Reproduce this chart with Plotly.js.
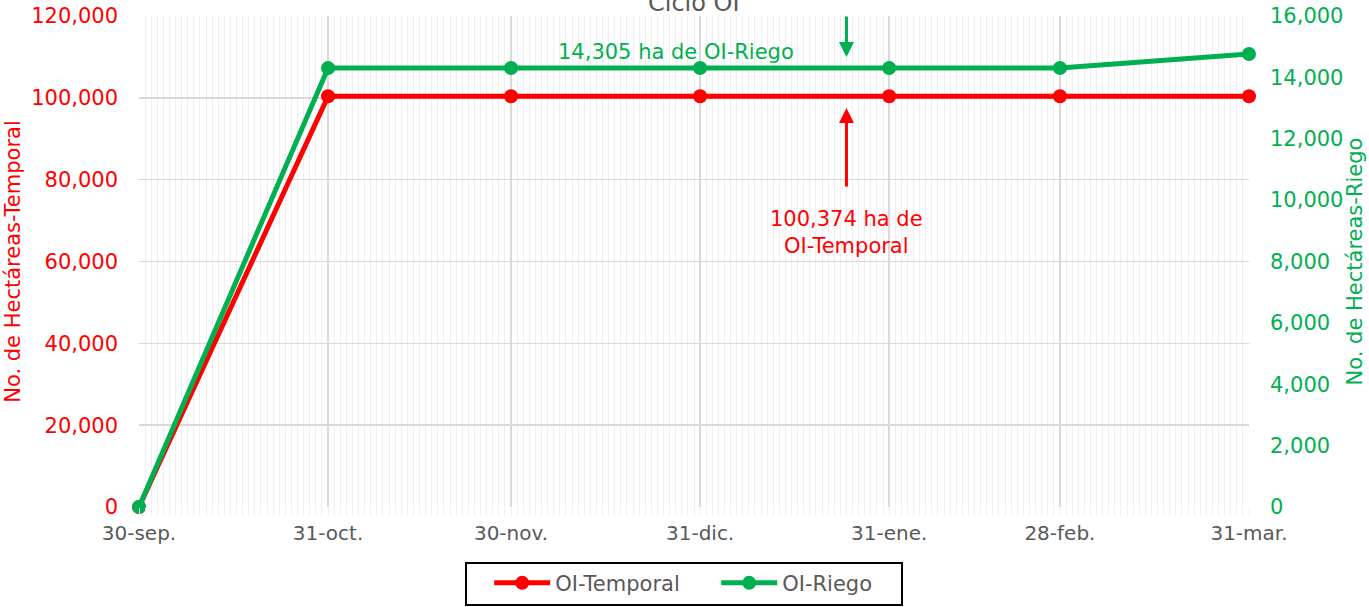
<!DOCTYPE html>
<html><head><meta charset="utf-8">
<script src="https://cdn.plot.ly/plotly-3.0.1.min.js"></script>
<style>body{margin:0;background:#fff}#c{width:1369px;height:607px}</style>
</head><body><div id="c"></div>
<script>
const fechas = ['2024-09-30','2024-10-31','2024-11-30','2024-12-31','2025-01-31','2025-02-28','2025-03-31'];
const tickLabels = ['30-sep.','31-oct.','30-nov.','31-dic.','31-ene.','28-feb.','31-mar.'];
const temporal = [0,100374,100374,100374,100374,100374,100374];
const riego = [0,14305,14305,14305,14305,14305,14760];
const FONT = 'DejaVu Sans, sans-serif';
const RED = '#FF0000', GREEN = '#00B050', GRAY = '#595959';

const traces = [
  {x: fechas, y: temporal, name: 'OI-Temporal', type: 'scatter', mode: 'lines+markers',
   line: {color: RED, width: 5}, marker: {color: RED, size: 14}, cliponaxis: false},
  {x: fechas, y: riego, name: 'OI-Riego', type: 'scatter', mode: 'lines+markers', yaxis: 'y2',
   line: {color: GREEN, width: 5}, marker: {color: GREEN, size: 14}, cliponaxis: false}
];

const layout = {
  width: 1369, height: 607,
  margin: {l: 139, r: 120, t: 16, b: 100, autoexpand: false},
  paper_bgcolor: '#fff', plot_bgcolor: '#fff',
  font: {family: FONT, color: GRAY},
  showlegend: true,
  legend: {orientation: 'h', x: 0.52, xanchor: 'center', yref: 'container', y: 0.073, yanchor: 'top',
           borderwidth: 0, bgcolor: 'rgba(0,0,0,0)', font: {size: 21, color: GRAY},
           entrywidth: 156, entrywidthmode: 'pixels', itemwidth: 56},
  shapes: [
    {type: 'rect', xref: 'paper', yref: 'paper', x0: 0.2946, x1: 0.6874, y0: -0.114, y1: -0.1996,
     line: {color: '#000', width: 2}, fillcolor: 'rgba(0,0,0,0)'}
  ],
  xaxis: {type: 'date', range: ['2024-09-30', '2025-03-31'], tickmode: 'array', automargin: false,
          tickvals: fechas, ticktext: tickLabels, showgrid: true, gridcolor: '#d9d9d9', gridwidth: 1.5,
          tickfont: {size: 20, color: GRAY}, ticks: '', zeroline: false, showline: false,
          ticklabelstandoff: 12,
          minor: {dtick: 86400000, showgrid: true, gridcolor: '#efefef', gridwidth: 1,
                  ticks: 'outside', ticklen: 8, tickcolor: '#f0f0f0'}},
  yaxis: {range: [0, 120000], dtick: 20000, tickformat: ',d', showgrid: true, gridcolor: '#d9d9d9', gridwidth: 1.5,
          automargin: false,
          tickfont: {size: 21, color: RED}, zeroline: false, showline: false, ticklabelstandoff: 20,
          title: {text: 'No. de Hectáreas-Temporal', font: {size: 21, color: RED}, standoff: 4}},
  yaxis2: {range: [0, 16000], dtick: 2000, tickformat: ',d', overlaying: 'y', side: 'right', showgrid: false,
           automargin: false,
           tickfont: {size: 21, color: GREEN}, zeroline: false, showline: false, ticklabelstandoff: 20,
           title: {text: 'No. de Hectáreas-Riego', font: {size: 21, color: GREEN}, standoff: 0}},
  annotations: [
    {xref: 'paper', yref: 'paper', x: 0.5, y: 1, yanchor: 'bottom', yshift: -3, showarrow: false,
     text: 'Ciclo OI', font: {size: 24, color: GRAY}},
    {xref: 'x', yref: 'paper', x: '2024-12-27', y: 0.955, showarrow: false,
     text: '14,305 ha de OI-Riego', font: {size: 21, color: GREEN}},
    {xref: 'x', yref: 'paper', x: '2025-01-24', y: 0.9165, ax: 0, ay: -42, showarrow: true,
     arrowhead: 2, arrowsize: 1, arrowwidth: 3, arrowcolor: GREEN, text: ''},
    {xref: 'x', yref: 'paper', x: '2025-01-24', y: 0.8126, ax: 0, ay: 80, showarrow: true,
     arrowhead: 2, arrowsize: 1, arrowwidth: 3, arrowcolor: RED, text: ''},
    {xref: 'x', yref: 'paper', x: '2025-01-24', y: 0.56, showarrow: false, align: 'center',
     text: '100,374 ha de<br>OI-Temporal', font: {size: 21, color: RED}}
  ]
};
Plotly.newPlot('c', traces, layout, {displayModeBar: false, staticPlot: true});
</script></body></html>
